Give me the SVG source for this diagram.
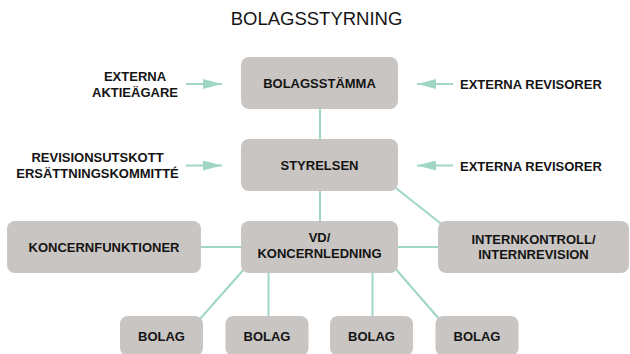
<svg xmlns="http://www.w3.org/2000/svg" width="630" height="354" viewBox="0 0 630 354">
  <defs>
    <style>
      .box { fill: #c9c5c2; }
      .lbl { font-family: "Liberation Sans", Arial, sans-serif; font-weight: bold; font-size: 13px; fill: #141414; text-anchor: middle; }
      .title { font-family: "Liberation Sans", Arial, sans-serif; font-size: 18.5px; fill: #141414; text-anchor: middle; }
      .conn { stroke: #a0d6c5; stroke-width: 2; fill: none; }
    </style>
    <marker id="arr" viewBox="0 0 19 10" markerWidth="19" markerHeight="10" refX="19" refY="5" markerUnits="userSpaceOnUse" orient="auto">
      <path d="M0,0 L19,5 L0,10 z" fill="#a0d6c5"/>
    </marker>
  </defs>
  <rect width="630" height="354" fill="#ffffff"/>
  <text class="title" x="316.5" y="25">BOLAGSSTYRNING</text>

  <g id="connectors">
    <line class="conn" x1="320" y1="109" x2="320" y2="139"/>
    <line class="conn" x1="320" y1="191" x2="320" y2="221"/>
    <line class="conn" x1="392" y1="185" x2="444" y2="226"/>
    <line class="conn" x1="201" y1="247" x2="241" y2="247"/>
    <line class="conn" x1="398" y1="247" x2="438" y2="247"/>
    <line class="conn" x1="246" y1="267" x2="199" y2="320"/>
    <line class="conn" x1="394" y1="267" x2="440" y2="320"/>
    <line class="conn" x1="268.5" y1="273" x2="268.5" y2="316"/>
    <line class="conn" x1="372.5" y1="273" x2="372.5" y2="316"/>
    <line class="conn" x1="186" y1="84" x2="222" y2="84" marker-end="url(#arr)"/>
    <line class="conn" x1="186" y1="165.5" x2="222" y2="165.5" marker-end="url(#arr)"/>
    <line class="conn" x1="453" y1="84" x2="417" y2="84" marker-end="url(#arr)"/>
    <line class="conn" x1="453" y1="165.5" x2="417" y2="165.5" marker-end="url(#arr)"/>
  </g>

  <g id="ext-aktieagare">
    <text class="lbl" x="135" y="81">EXTERNA</text>
    <text class="lbl" x="135" y="97">AKTIEÄGARE</text>
  </g>
  <g id="ext-revisorer-1">
    <text class="lbl" x="460" y="89" text-anchor="start" style="text-anchor:start">EXTERNA REVISORER</text>
  </g>
  <g id="utskott">
    <text class="lbl" x="97.5" y="161.5">REVISIONSUTSKOTT</text>
    <text class="lbl" x="97.5" y="177.5">ERSÄTTNINGSKOMMITTÉ</text>
  </g>
  <g id="ext-revisorer-2">
    <text class="lbl" x="460" y="170.5" style="text-anchor:start">EXTERNA REVISORER</text>
  </g>

  <g id="bolagsstamma">
    <rect class="box" x="241" y="57" width="157" height="52" rx="8"/>
    <text class="lbl" x="319.5" y="87.7">BOLAGSSTÄMMA</text>
  </g>
  <g id="styrelsen">
    <rect class="box" x="241" y="139" width="157" height="52" rx="8"/>
    <text class="lbl" x="319.5" y="169.7">STYRELSEN</text>
  </g>
  <g id="vd">
    <rect class="box" x="241" y="221" width="157" height="52" rx="8"/>
    <text class="lbl" x="319.5" y="242">VD/</text>
    <text class="lbl" x="319.5" y="258">KONCERNLEDNING</text>
  </g>
  <g id="koncernfunktioner">
    <rect class="box" x="7" y="221" width="194" height="52" rx="8"/>
    <text class="lbl" x="104" y="251.7">KONCERNFUNKTIONER</text>
  </g>
  <g id="internkontroll">
    <rect class="box" x="438" y="221" width="191" height="52" rx="8"/>
    <text class="lbl" x="533.5" y="243.5">INTERNKONTROLL/</text>
    <text class="lbl" x="533.5" y="258.5">INTERNREVISION</text>
  </g>
  <g id="bolag-1">
    <rect class="box" x="120" y="316" width="83" height="40" rx="8"/>
    <text class="lbl" x="161.5" y="340.7">BOLAG</text>
  </g>
  <g id="bolag-2">
    <rect class="box" x="225.5" y="316" width="83" height="40" rx="8"/>
    <text class="lbl" x="267" y="340.7">BOLAG</text>
  </g>
  <g id="bolag-3">
    <rect class="box" x="330" y="316" width="83" height="40" rx="8"/>
    <text class="lbl" x="371.5" y="340.7">BOLAG</text>
  </g>
  <g id="bolag-4">
    <rect class="box" x="435.5" y="316" width="83" height="40" rx="8"/>
    <text class="lbl" x="477" y="340.7">BOLAG</text>
  </g>
</svg>
